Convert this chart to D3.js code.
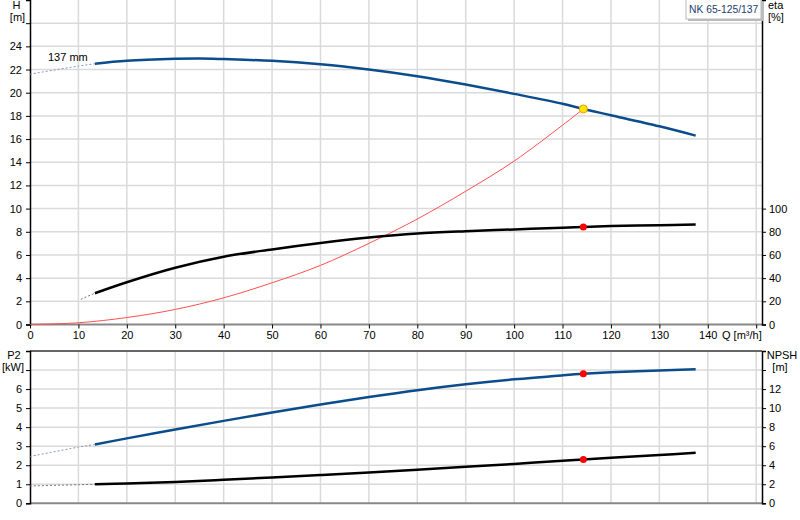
<!DOCTYPE html>
<html lang="en">
<head>
    <meta charset="UTF-8">
    <title>NK 65-125/137 pump curves</title>
    <script src="https://d3js.org/d3.v7.min.js"></script>
    <style>
        body {
            margin: 0;
            padding: 0;
            background-color: #fff;
        }
        svg text {
            font-family: "Liberation Sans", Arial, sans-serif;
            font-size: 11px;
            fill: #000;
        }
        .grid line {
            stroke: #dadada;
            stroke-width: 1.5;
        }
    </style>
</head>
<body>
    <svg id="chart" width="800" height="520"></svg>

    <script>
        // flow values (m3/h) and readings
        const qH = [0, 10, 13.4, 20, 30, 35, 40, 50, 60, 70, 80, 90, 100, 110, 114.3, 120, 130, 137.5];
        const hVals = [21.6, 22.3, 22.5, 22.75, 22.92, 22.95, 22.9, 22.75, 22.45, 22.0, 21.42, 20.7, 19.9, 19.05, 18.6, 18.06, 17.1, 16.3];

        const qEta = [10.5, 13.4, 20, 30, 40, 50, 60, 70, 80, 90, 100, 110, 114.3, 120, 130, 137.5];
        const etaVals = [21.8, 27.0, 36.5, 49.0, 58.5, 64.8, 70.3, 75.0, 78.5, 80.5, 82.0, 83.5, 84.2, 84.9, 85.7, 86.3];

        const qSys = [0, 10, 20, 30, 40, 50, 60, 70, 80, 90, 100, 110, 114.3];
        const sysVals = [0, 0.15, 0.6, 1.3, 2.3, 3.6, 5.1, 7.0, 9.1, 11.5, 14.1, 17.2, 18.6];

        const qLow = [0, 10, 13.4, 20, 30, 40, 50, 60, 70, 80, 90, 100, 110, 114.3, 120, 130, 137.5];
        const p2Vals = [2.46, 2.95, 3.09, 3.41, 3.88, 4.33, 4.77, 5.19, 5.58, 5.94, 6.25, 6.51, 6.72, 6.80, 6.88, 6.98, 7.04];
        const npshVals = [1.82, 1.95, 2.0, 2.08, 2.25, 2.47, 2.71, 2.97, 3.24, 3.53, 3.83, 4.14, 4.46, 4.6, 4.78, 5.07, 5.31];

        // curves are dotted below this flow
        const solidFromQ = 13.4;

        const duty = { q: 114.3, h: 18.6, eta: 84.2, p2: 6.80, npsh: 4.6 };

        const qTicks = [0, 10, 20, 30, 40, 50, 60, 70, 80, 90, 100, 110, 120, 130, 140];
        const hTicks = [0, 2, 4, 6, 8, 10, 12, 14, 16, 18, 20, 22, 24];
        const etaTicks = [0, 20, 40, 60, 80, 100];
        const p2Ticks = [0, 1, 2, 3, 4, 5, 6];
        const npshTicks = [0, 2, 4, 6, 8, 10, 12];

        const pumpName = 'NK 65-125/137';
        const impeller = '137 mm';

        const left = 30, right = 762;
        const topPlot = { top: 0, bottom: 324.5 };
        const lowPlot = { top: 351, bottom: 503.3 };

        const x = d3.scaleLinear().domain([0, 151.2]).range([left, right]);
        const yH = d3.scaleLinear().domain([0, 28]).range([topPlot.bottom, topPlot.top]);
        const yEta = d3.scaleLinear().domain([0, 280]).range([topPlot.bottom, topPlot.top]);
        const yP2 = d3.scaleLinear().domain([0, 8]).range([lowPlot.bottom, lowPlot.top]);
        const yNpsh = d3.scaleLinear().domain([0, 16]).range([lowPlot.bottom, lowPlot.top]);

        const svg = d3.select('#chart');
        const gridQ = d3.range(10, 151, 10);

        function drawPanel(plot, yScale, gridVals) {
            const g = svg.append('g').attr('class', 'grid');
            g.selectAll('.v').data(gridQ).enter().append('line')
                .attr('x1', d => x(d)).attr('x2', d => x(d))
                .attr('y1', plot.top).attr('y2', plot.bottom);
            g.selectAll('.h').data(gridVals).enter().append('line')
                .attr('x1', left).attr('x2', right)
                .attr('y1', d => yScale(d)).attr('y2', d => yScale(d));
        }

        drawPanel(topPlot, yH, d3.range(2, 27, 2));
        drawPanel(lowPlot, yP2, d3.range(1, 8, 1));

        // frame lines
        svg.append('line').attr('x1', left).attr('x2', right)
            .attr('y1', topPlot.bottom).attr('y2', topPlot.bottom)
            .attr('stroke', '#888').attr('stroke-width', 2);
        svg.append('line').attr('x1', left).attr('x2', right)
            .attr('y1', lowPlot.top).attr('y2', lowPlot.top)
            .attr('stroke', '#666').attr('stroke-width', 2);
        svg.append('line').attr('x1', left).attr('x2', right)
            .attr('y1', lowPlot.bottom).attr('y2', lowPlot.bottom)
            .attr('stroke', '#888').attr('stroke-width', 2);

        // axes
        function leftAxis(scale, ticks, allTicks) {
            const g = svg.append('g').attr('transform', `translate(${left},0)`)
                .call(d3.axisLeft(scale).tickValues(allTicks).tickSize(4).tickPadding(4)
                    .tickFormat(d => ticks.includes(d) ? d : ''));
            styleAxis(g);
        }
        function rightAxis(scale, ticks, allTicks) {
            const g = svg.append('g').attr('transform', `translate(${right},0)`)
                .call(d3.axisRight(scale).tickValues(allTicks).tickSize(4).tickPadding(3)
                    .tickFormat(d => ticks.includes(d) ? d : ''));
            styleAxis(g);
        }
        function styleAxis(g) {
            g.select('.domain').attr('stroke', '#000').attr('stroke-width', 1.5);
            g.selectAll('.tick line').attr('stroke', '#000');
            g.selectAll('text').attr('font-family', null).attr('font-size', null);
        }

        leftAxis(yH, hTicks, d3.range(0, 27, 2));
        rightAxis(yEta, etaTicks, etaTicks);
        leftAxis(yP2, p2Ticks, d3.range(0, 8, 1));
        rightAxis(yNpsh, npshTicks, d3.range(0, 15, 2));

        // x axis at bottom of the top panel
        const xg = svg.append('g').attr('transform', `translate(0,${topPlot.bottom})`)
            .call(d3.axisBottom(x).tickValues(d3.range(0, 151, 10)).tickSize(4).tickPadding(3)
                .tickFormat(d => qTicks.includes(d) ? d : ''));
        xg.select('.domain').remove();
        xg.selectAll('.tick line').attr('stroke', '#000');
        xg.selectAll('text').attr('font-family', null).attr('font-size', null);
        svg.append('text').attr('x', 722).attr('y', 339).text('Q [m³/h]');

        // axis titles
        const titles = [
            { t: 'H', x: 16.5, y: 9, a: 'middle' },
            { t: '[m]', x: 17.5, y: 21, a: 'middle' },
            { t: 'eta', x: 768, y: 9, a: 'start' },
            { t: '[%]', x: 768, y: 21, a: 'start' },
            { t: 'P2', x: 14, y: 359, a: 'middle' },
            { t: '[kW]', x: 13, y: 371, a: 'middle' },
            { t: 'NPSH', x: 782, y: 359, a: 'middle' },
            { t: '[m]', x: 780, y: 371, a: 'middle' }
        ];
        svg.selectAll('.title').data(titles).enter().append('text')
            .attr('x', d => d.x).attr('y', d => d.y)
            .attr('text-anchor', d => d.a).text(d => d.t);

        // curves
        const zip = (qs, vs) => qs.map((q, i) => ({ q, v: vs[i] }));
        function curve(data, yScale, color, width, dash) {
            const line = d3.line().x(d => x(d.q)).y(d => yScale(d.v))
                .curve(d3.curveCatmullRom.alpha(0.5));
            svg.append('path').datum(data).attr('d', line)
                .attr('fill', 'none').attr('stroke', color).attr('stroke-width', width)
                .attr('stroke-dasharray', dash || null);
        }
        function pumpCurve(qs, vs, yScale, color, dotColor) {
            const pts = zip(qs, vs);
            curve(pts.filter(d => d.q <= solidFromQ), yScale, dotColor, 1, '2,2');
            curve(pts.filter(d => d.q >= solidFromQ), yScale, color, 2.5);
        }

        curve(zip(qSys, sysVals), yH, '#ff5050', 1);
        pumpCurve(qH, hVals, yH, '#0b4c8c', '#8899bb');
        pumpCurve(qEta, etaVals, yEta, '#000', '#777');
        pumpCurve(qLow, p2Vals, yP2, '#0b4c8c', '#8899bb');
        pumpCurve(qLow, npshVals, yNpsh, '#000', '#777');

        // duty point markers
        const dots = [
            { y: yEta(duty.eta) },
            { y: yP2(duty.p2) },
            { y: yNpsh(duty.npsh) }
        ];
        svg.selectAll('.dot').data(dots).enter().append('circle')
            .attr('cx', x(duty.q)).attr('cy', d => d.y).attr('r', 3.5)
            .attr('fill', '#ff0000');
        svg.append('circle').attr('cx', x(duty.q)).attr('cy', yH(duty.h)).attr('r', 4)
            .attr('fill', '#ffe600').attr('stroke', '#ff9900').attr('stroke-width', 1);

        svg.append('text').attr('x', 48).attr('y', 61).text(impeller);

        // pump name box
        svg.append('rect').attr('x', 688).attr('y', 1).attr('width', 75).attr('height', 20)
            .attr('fill', '#bbb');
        svg.append('rect').attr('x', 686).attr('y', -1).attr('width', 75).attr('height', 20)
            .attr('fill', '#fff').attr('stroke', '#bbb').attr('stroke-width', 1);
        svg.append('text').attr('x', 689).attr('y', 12.5)
            .style('fill', '#1d3c6e').style('font-size', '10.3px').text(pumpName);
    </script>
</body>
</html>
